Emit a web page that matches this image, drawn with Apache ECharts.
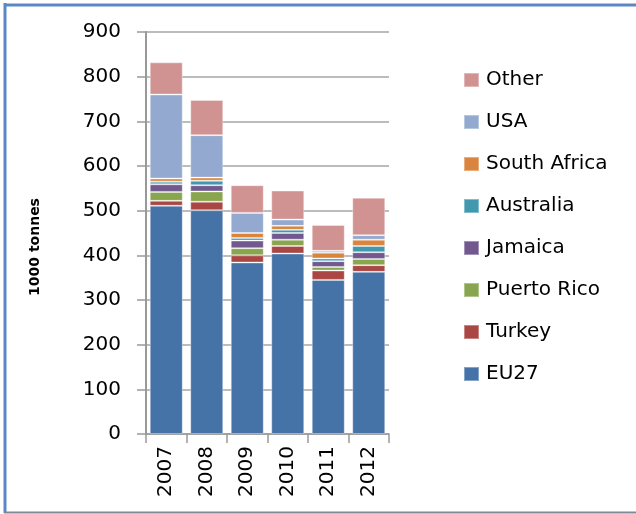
<!DOCTYPE html>
<html>
<head>
<meta charset="utf-8">
<script src="https://cdn.jsdelivr.net/npm/echarts@6/dist/echarts.min.js"></script>
<style>html,body{margin:0;padding:0;background:#fff}#c{width:636px;height:514px}</style>
</head>
<body>
<div id="c"></div>
<script>
const years = ['2007','2008','2009','2010','2011','2012'];
const eu27 = [511, 501, 384, 404, 345, 363];
const turkey = [11, 19, 16, 17, 21, 15];
const puertoRico = [20, 23, 16, 14, 8, 14];
const jamaica = [17, 14, 17, 15, 13, 15];
const australia = [6, 10, 6, 7, 6, 14];
const southAfrica = [7, 7, 11, 9, 13, 14];
const usa = [188, 95, 45, 14, 4, 10];
const other = [72, 79, 62, 65, 58, 84];
const yTicks = [0,100,200,300,400,500,600,700,800,900];
const yTitle = '1000 tonnes';

const seriesDefs = [
  ['EU27', eu27, '#4572A7'],
  ['Turkey', turkey, '#AA4643'],
  ['Puerto Rico', puertoRico, '#89A54E'],
  ['Jamaica', jamaica, '#71588F'],
  ['Australia', australia, '#4198AF'],
  ['South Africa', southAfrica, '#DB843D'],
  ['USA', usa, '#93A9CF'],
  ['Other', other, '#D19392']
];

const chart = echarts.init(document.getElementById('c'), null, {renderer:'canvas'});
const font = 'DejaVu Sans';
chart.setOption({
  animation: false,
  textStyle: {fontFamily: font},
  grid: {left: 146, right: 247, top: 32, bottom: 80, containLabel: false},
  legend: {
    orient: 'vertical', left: 458, top: 65,
    itemWidth: 15, itemHeight: 14, itemGap: 22, icon: 'rect',
    data: seriesDefs.map(s => s[0]).reverse(),
    textStyle: {fontSize: 20, color: '#000', fontFamily: font, padding: [0,0,0,2]}
  },
  xAxis: {
    type: 'category', data: years,
    axisLine: {lineStyle: {color: '#999', width: 1.5}},
    axisTick: {show: true, alignWithLabel: false, length: 9, lineStyle: {color: '#999', width: 1.5}},
    axisLabel: {rotate: 90, fontSize: 20, color: '#000', margin: 12, fontFamily: font}
  },
  yAxis: {
    type: 'value', min: yTicks[0], max: yTicks[yTicks.length-1], interval: 100,
    axisLine: {show: true, lineStyle: {color: '#999', width: 2}},
    axisTick: {show: true, length: 9, lineStyle: {color: '#999', width: 1.5}},
    axisLabel: {fontSize: 20, color: '#000', margin: 25, fontFamily: font},
    splitLine: {lineStyle: {color: '#a6a6a6', width: 1.5}}
  },
  series: seriesDefs.map(([name, data, color]) => ({
    name, type: 'bar', stack: 'total', data, barWidth: 33,
    itemStyle: {color, borderColor: 'rgba(255,255,255,0.35)', borderWidth: 1}
  })),
  graphic: [
    {type: 'text', x: 35, y: 247, rotation: Math.PI/2,
     style: {text: yTitle, font: 'bold 14px "DejaVu Sans"', fill: '#000', align: 'center', verticalAlign: 'middle'}},
    {type: 'line', shape: {x1: 5, y1: 3, x2: 5, y2: 513}, style: {stroke: '#5B87C5', lineWidth: 3}},
    {type: 'line', shape: {x1: 4, y1: 5, x2: 636, y2: 5}, style: {stroke: '#5B87C5', lineWidth: 3}},
    {type: 'line', shape: {x1: 4, y1: 512.5, x2: 636, y2: 512.5}, style: {stroke: '#7f8a99', lineWidth: 2}}
  ]
});
</script>
</body>
</html>
